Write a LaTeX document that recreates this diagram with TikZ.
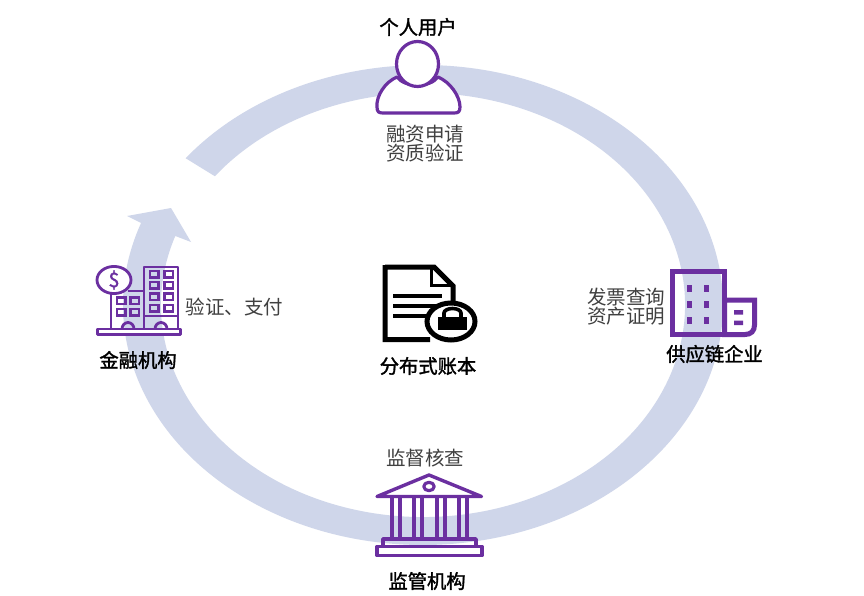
\documentclass[tikz,border=0pt]{standalone}
\usepackage{fontspec}
\setmainfont{Noto Sans CJK SC}
\newfontfamily\namefont[FakeBold=1.6]{Noto Sans CJK SC}
\usetikzlibrary{calc,shapes.geometric}
\definecolor{ringc}{HTML}{CFD6EA}
\definecolor{purp}{HTML}{6B2FA0}
\definecolor{txt}{HTML}{404040}
\tikzset{
 desc/.style={font=\fontsize{19.5}{19.5}\selectfont,text=txt,inner sep=0pt,anchor=center},
 namelab/.style={font=\namefont\fontsize{19.3}{19.3}\selectfont,text=black,inner sep=0pt,anchor=center},
 ico/.style={draw=purp,line width=3.2pt,line join=round},
 icot/.style={draw=purp,line width=2.8pt,line join=round},
 icow/.style={draw=purp,line width=2.3pt,line join=miter},
 icob/.style={draw=purp,line width=5pt,line join=miter},
}
\begin{document}
\begin{tikzpicture}[x=1pt,y=1pt,yscale=-1]
\useasboundingbox (0,0) rectangle (864,596);
\fill[white] (0,0) rectangle (864,596);
% ring
\fill[ringc] ($(423,305)+(-142.3:300 and 240)$) arc[start angle=-142.3,end angle=200,x radius=300,y radius=240]
 -- (127,216) -- (171,208) -- (191,242)
 -- ($(423,305)+(199:262 and 212)$) arc[start angle=199,end angle=-142.6,x radius=262,y radius=212] -- cycle;
% person
\filldraw[fill=white,ico] (397,77) .. controls (385,82) and (376,96) .. (377,107) .. controls (377,112) and (379,113) .. (383,113)
 -- (454,113) .. controls (458,113) and (460,112) .. (460,107) .. controls (460,96) and (450,82) .. (438,77)
 .. controls (430,88) and (405,88) .. (397,77) -- cycle;
\filldraw[fill=white,ico] (417.5,64) ellipse[x radius=21,y radius=22.5];
% finance icon
\draw[icot] (111,294) -- (111,329) (144,329) -- (144,267) -- (178,267) -- (178,329);
\draw[icot] (128,291) -- (144,291);
\draw[icot] (144,316) -- (178,316);
\draw[icot,fill=white] (97.5,329) rectangle (180.5,334.5);
\foreach \wx in {150,164.5} \foreach \wy in {271,282,293.5,305}
 \draw[icow] (\wx,\wy) rectangle ++(8.5,6.5);
\foreach \wx in {117,130.5} \foreach \wy in {297.5,309}
 \draw[icow] (\wx,\wy) rectangle ++(8.5,6.5);
\draw[icot] (122,329) arc[start angle=180,end angle=360,x radius=6,y radius=6.5];
\draw[icot] (155,329) arc[start angle=180,end angle=360,x radius=6,y radius=6.5];
\node[draw=purp,line width=2.8pt,fill=white,ellipse,minimum width=34pt,minimum height=26pt,inner sep=0pt,font=\namefont\fontsize{20}{20}\selectfont,text=purp] (coin) at (114,280) {\$};
% doc icon
\draw[line width=5pt,line join=miter] (385,267) -- (434,267) -- (453,286) -- (453,320) (385,265) -- (385,339.5) -- (430,339.5);
\draw[line width=3.4pt] (431.5,267) -- (431.5,285.5) -- (453,285.5);
\draw[line width=4pt] (393,295.5) -- (441.5,295.5) (393,305.5) -- (437,305.5) (393,315.5) -- (427,315.5);
\filldraw[fill=white,line width=5pt] (451,321.5) ellipse[x radius=24,y radius=18.5];
\fill (438,317) rectangle (467,329.5);
\draw[line width=3.6pt] (444,317) -- (444,313) arc[start angle=180,end angle=360,x radius=8.5,y radius=4.5] -- (461,317);
% supply icon
\draw[icob] (672,334.5) rectangle (724.5,271.5);
\draw[icob,fill=white] (724.5,300) -- (754.5,300) -- (754.5,325) .. controls (754.5,331) and (751,334.5) .. (745,334.5) -- (724.5,334.5) -- cycle;
\foreach \wx in {687,703.5} \foreach \wy in {285,301,317}
 \fill[purp] (\wx,\wy) rectangle ++(5,6.5);
\fill[purp] (734,310) rectangle (743,314.5) (734,320.5) rectangle (743,325);
% bank icon
\draw[ico,line width=3.4pt] (429,475) -- (377,496.5) -- (481.5,496.5) -- cycle;
\draw[ico] (429,486.5) ellipse[x radius=5.2,y radius=4.2];
\foreach \cx in {392,400,413.7,422,437,445,459,467}
 \draw[draw=purp,line width=4.2pt] (\cx,497) -- (\cx,538);
\draw[ico,line width=3.4pt] (383,539) rectangle (476,546.5);
\draw[ico,line width=3.4pt] (377,546.5) rectangle (482,555.5);
% texts
\node[namelab] (n1) at (418,27) {个人用户};
\node[desc] (d1a) at (425,134) {融资申请};
\node[desc] (d1b) at (425,153) {资质验证};
\node[namelab] (n2) at (138,360) {金融机构};
\node[desc] (d2) at (234.5,307) {验证、支付};
\node[namelab] (n3) at (428,366) {分布式账本};
\node[desc] (d3a) at (626,297) {发票查询};
\node[desc] (d3b) at (626,316) {资产证明};
\node[namelab] (n4) at (714.5,354) {供应链企业};
\node[desc] (d4) at (425,458) {监督核查};
\node[namelab] (n5) at (427,581) {监管机构};
\end{tikzpicture}
\end{document}
